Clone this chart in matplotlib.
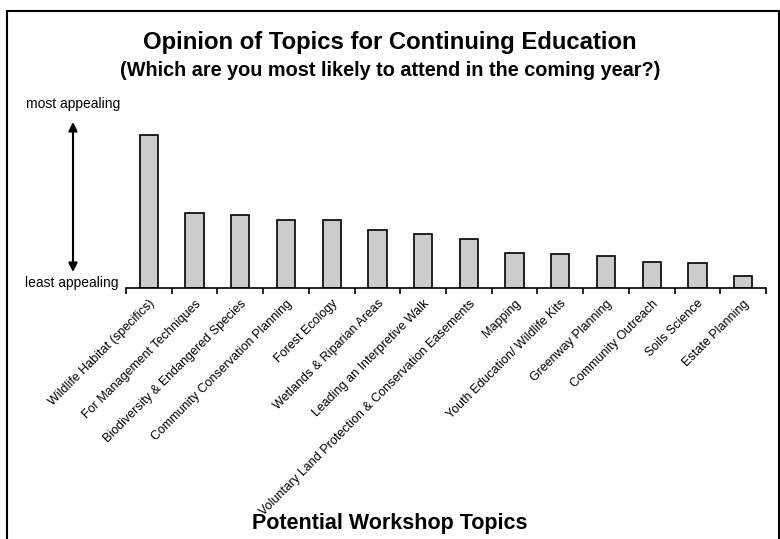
import matplotlib.pyplot as plt
from matplotlib.patches import Rectangle

topics = ['Wildlife Habitat (specifics)', 'For Management Techniques',
          'Biodiversity & Endangered Species', 'Community Conservation Planning',
          'Forest Ecology', 'Wetlands & Riparian Areas', 'Leading an Interpretive Walk',
          'Voluntary Land Protection & Conservation Easements', 'Mapping',
          'Youth Education/ Wildlife Kits', 'Greenway Planning', 'Community Outreach',
          'Soils Science', 'Estate Planning']
appeal = [153, 75, 73, 68, 68, 58, 54, 49, 35, 34, 32, 26, 25, 12]

plt.rcParams['font.family'] = ['Liberation Sans', 'DejaVu Sans']

fig = plt.figure(figsize=(7.8, 5.39), dpi=100)
ax = fig.add_axes([126/780, 1-288/539, 640/780, 166/539])

x = range(len(topics))
ax.bar(x, appeal, width=0.4, color='#cccccc', edgecolor='black', linewidth=1.2)
ax.set_xlim(-0.5, len(topics)-0.5)
ax.set_ylim(0, 166)

for s in ['top', 'right', 'left']:
    ax.spines[s].set_visible(False)
ax.spines['bottom'].set_linewidth(1.2)
ax.set_yticks([])
ax.set_xticks(list(x))
ax.set_xticklabels(topics, rotation=45, ha='right', rotation_mode='anchor', fontsize=9)
ax.tick_params(axis='x', which='major', length=0, pad=7)
ax.set_xticks([i-0.5 for i in range(len(topics)+1)], minor=True)
ax.tick_params(axis='x', which='minor', length=4, width=1.2, direction='out')

# arrow and end labels
fig.text(73/780, 1-104/539, 'most appealing', ha='center', va='center', fontsize=10)
fig.text(72/780, 1-283/539, 'least appealing', ha='center', va='center', fontsize=10)
ax.annotate('', xy=(73/780, 1-122/539), xytext=(73/780, 1-272/539),
            xycoords='figure fraction', textcoords='figure fraction',
            arrowprops=dict(arrowstyle='<|-|>', color='black', lw=1.5,
                            mutation_scale=13, shrinkA=0, shrinkB=0))

fig.text(0.5, 1-42/539, 'Opinion of Topics for Continuing Education', ha='center',
         va='center', fontsize=17.2, fontweight='bold')
fig.text(0.5, 1-70/539, '(Which are you most likely to attend in the coming year?)',
         ha='center', va='center', fontsize=14.3, fontweight='bold')
fig.text(0.5, 1-523/539, 'Potential Workshop Topics', ha='center', va='center',
         fontsize=15.5, fontweight='bold')

fig.add_artist(Rectangle((7/780, -0.02), 772/780, 1-11/539+0.02, transform=fig.transFigure,
                         fill=False, edgecolor='black', linewidth=1.5))

fig.savefig('out.png', dpi=100)
